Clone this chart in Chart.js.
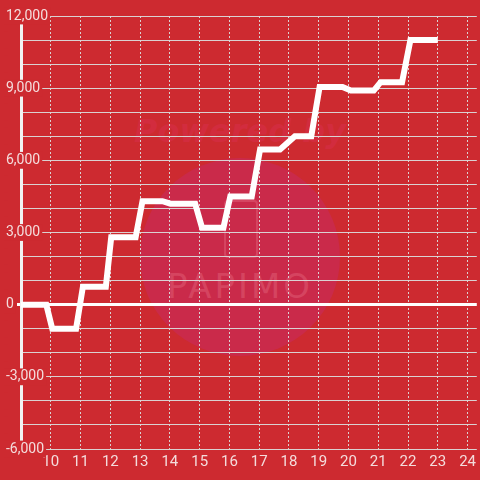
<!DOCTYPE html>
<html>
<head>
<meta charset="utf-8">
<script src="https://cdn.jsdelivr.net/npm/chart.js@4"></script>
<style>
  html, body { margin: 0; padding: 0; background: #cd2a30; }
  #wrap { position: relative; width: 480px; height: 480px; overflow: hidden; }
  #mark { position: absolute; left: 140px; top: 158px; width: 200px; height: 198px; border-radius: 50%; background: #ca2a4a; }
  #phone { position: absolute; left: 224px; top: 200px; width: 30px; height: 54px; border: 2px solid rgba(235, 120, 140, 0.35); border-radius: 4px; }
  .wm { position: absolute; left: 0; width: 480px; text-align: center; font-family: "DejaVu Sans", sans-serif; }
  #wm1 { top: 112px; font-size: 32px; font-weight: bold; font-style: italic; color: rgba(225, 50, 100, 0.28); }
  #wm2 { top: 266px; font-size: 34px; letter-spacing: 3px; color: rgba(235, 120, 140, 0.35); }
  canvas { position: absolute; left: 0; top: 0; }
</style>
</head>
<body>
<div id="wrap">
  <div id="mark"></div>
  <div id="phone"></div>
  <div class="wm" id="wm1">Powered by</div>
  <div class="wm" id="wm2">PAPIMO</div>
  <canvas id="lineChart" width="480" height="480"></canvas>
</div>
<script>
const hours = [9, 9.85, 10.05, 10.85, 11.08, 11.85, 12.03, 12.85, 13.08, 13.75, 14.02, 14.85, 15.08, 15.8,
  16.03, 16.75, 17.03, 17.7, 18.2, 18.75, 19.03, 19.8, 20.08, 20.85, 21.08, 21.8, 22.08, 23];
const balance = [0, 0, -1000, -1000, 750, 750, 2800, 2800, 4300, 4300, 4200, 4200, 3200, 3200,
  4500, 4500, 6450, 6450, 7000, 7000, 9050, 9050, 8900, 8900, 9250, 9250, 11000, 11000];
const xTicks = [10, 11, 12, 13, 14, 15, 16, 17, 18, 19, 20, 21, 22, 23, 24];
const yLabelled = [-6000, -3000, 0, 3000, 6000, 9000, 12000];

const gridGray = "rgba(218, 218, 218, 0.95)";
const labelColor = "#f4dcdc";

const points = hours.map((h, i) => ({ x: h, y: balance[i] }));

new Chart(document.getElementById("lineChart"), {
  type: "line",
  data: {
    datasets: [
      {
        data: points,
        borderColor: "#ffffff",
        borderWidth: 6,
        tension: 0,
        pointRadius: 0,
        fill: false,
      },
    ],
  },
  options: {
    responsive: false,
    animation: false,
    layout: { padding: { left: 6, top: 16, right: 0, bottom: 5 } },
    plugins: { legend: { display: false }, tooltip: { enabled: false } },
    scales: {
      x: {
        type: "linear",
        min: 9,
        max: 24.31,
        afterBuildTicks: (scale) => {
          scale.ticks = xTicks.map((v) => ({ value: v }));
        },
        ticks: {
          color: labelColor,
          font: { family: "Roboto", size: 15 },
          padding: 4,
          maxRotation: 0,
        },
        grid: { color: gridGray, lineWidth: 1, drawTicks: false },
        border: { display: false, dash: [2, 2] },
      },
      y: {
        min: -6000,
        max: 12000,
        afterFit: (scale) => {
          scale.width = 15;
        },
        ticks: {
          stepSize: 1000,
          color: labelColor,
          font: { family: "Roboto", size: 14 },
          mirror: true,
          padding: -15,
          callback: (value) => (yLabelled.includes(value) ? value.toLocaleString("en-US") : ""),
          showLabelBackdrop: true,
          backdropColor: "#cd2a30",
          backdropPadding: { x: 2, y: 0 },
        },
        grid: {
          color: (ctx) => (ctx.tick && ctx.tick.value === 0 ? "#ffffff" : gridGray),
          lineWidth: (ctx) => (ctx.tick && ctx.tick.value === 0 ? 3 : 1),
          drawTicks: true,
          tickLength: 4,
          tickWidth: 3,
          tickColor: (ctx) => (ctx.tick && ctx.tick.value === 0 ? "#ffffff" : "rgba(0,0,0,0)"),
        },
        border: { display: true, color: "#f2f2f2", width: 3 },
      },
    },
  },
});
</script>
</body>
</html>
